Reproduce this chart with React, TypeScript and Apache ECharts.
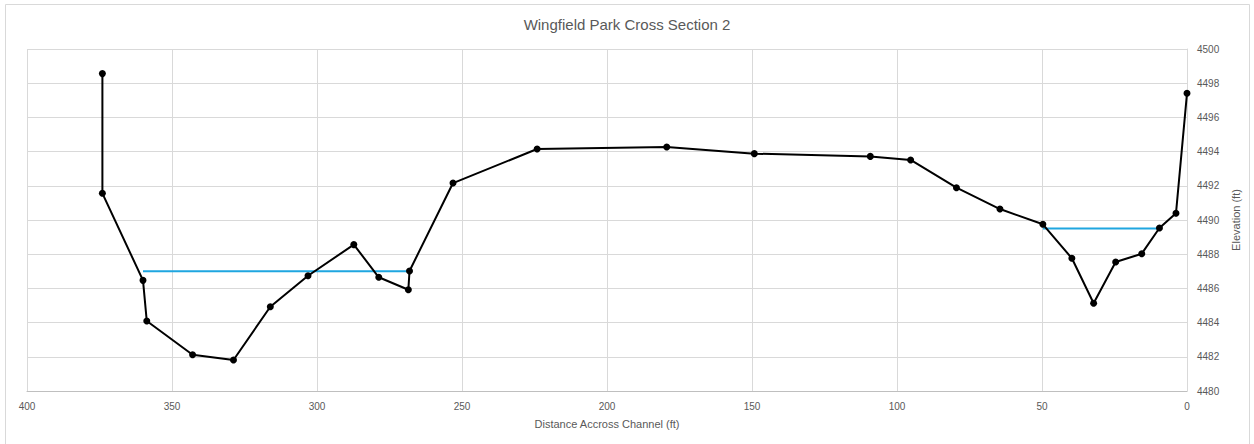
import React, { useEffect, useRef } from "react";
import * as echarts from "echarts";

const distances = [374, 374, 360, 358.7, 342.9, 328.8, 316.1, 303.1, 287.3, 278.7, 268.5, 268.1, 253.1, 224.1, 179.4, 149.2, 109.2, 95.3, 79.5, 64.5, 49.7, 39.7, 32.2, 24.6, 15.6, 9.5, 3.8, 0];
const elevations = [4498.56, 4491.56, 4486.47, 4484.09, 4482.12, 4481.81, 4484.93, 4486.74, 4488.56, 4486.65, 4485.92, 4487.02, 4492.16, 4494.15, 4494.27, 4493.88, 4493.72, 4493.51, 4491.89, 4490.64, 4489.75, 4487.76, 4485.13, 4487.54, 4488.03, 4489.53, 4490.39, 4497.41];

const waterLeftX = [360, 268.1];
const waterLeftY = [4487.0, 4487.0];
const waterRightX = [49.7, 9.5];
const waterRightY = [4489.5, 4489.5];

const xTicks = { min: 0, max: 400, interval: 50 };
const yTicks = { min: 4480, max: 4500, interval: 2 };

const FONT = "Liberation Sans";

export default function App() {
  const ref = useRef<HTMLDivElement>(null);
  useEffect(() => {
    if (!ref.current) return;
    const chart = echarts.init(ref.current, undefined, { renderer: "svg" });
    const ground = distances.map((d, i) => [d, elevations[i]]);
    const wl = waterLeftX.map((d, i) => [d, waterLeftY[i]]);
    const wr = waterRightX.map((d, i) => [d, waterRightY[i]]);
    chart.setOption({
      animation: false,
      backgroundColor: "#ffffff",
      title: {
        text: "Wingfield Park Cross Section 2",
        left: "center",
        top: 12,
        textStyle: { fontFamily: FONT, fontSize: 15, fontWeight: "normal", color: "#595959" },
      },
      graphic: [
        {
          type: "rect",
          shape: { x: 5.5, y: 4.5, width: 1244, height: 445 },
          style: { fill: "none", stroke: "#d9d9d9", lineWidth: 1 },
          silent: true,
          z: -1,
        },
      ],
      grid: { left: 27, right: 67, top: 49, bottom: 53, containLabel: false },
      xAxis: {
        type: "value",
        inverse: true,
        min: xTicks.min,
        max: xTicks.max,
        interval: xTicks.interval,
        name: "Distance Accross Channel (ft)",
        nameLocation: "middle",
        nameGap: 27,
        nameTextStyle: { fontFamily: FONT, fontSize: 11, color: "#595959" },
        axisLine: { show: true, lineStyle: { color: "#bfbfbf", width: 1 } },
        axisTick: { show: false },
        axisLabel: { fontFamily: FONT, fontSize: 10, color: "#595959", margin: 10 },
        splitLine: { show: true, lineStyle: { color: "#d9d9d9", width: 1 } },
      },
      yAxis: {
        type: "value",
        position: "right",
        min: yTicks.min,
        max: yTicks.max,
        interval: yTicks.interval,
        name: "Elevation (ft)",
        nameLocation: "middle",
        nameGap: 35,
        nameRotate: 90,
        nameTextStyle: { fontFamily: FONT, fontSize: 11, color: "#595959" },
        axisLine: { show: true, lineStyle: { color: "#d9d9d9", width: 1 } },
        axisTick: { show: false },
        axisLabel: {
          fontFamily: FONT,
          fontSize: 10,
          color: "#595959",
          margin: 10,
          formatter: (v: number) => String(v),
        },
        splitLine: { show: true, lineStyle: { color: "#d9d9d9", width: 1 } },
      },
      series: [
        {
          type: "line",
          data: wl,
          symbol: "none",
          lineStyle: { color: "#1fa6e0", width: 2 },
          z: 2,
        },
        {
          type: "line",
          data: wr,
          symbol: "none",
          lineStyle: { color: "#1fa6e0", width: 2 },
          z: 2,
        },
        {
          type: "line",
          data: ground,
          symbol: "circle",
          symbolSize: 7,
          itemStyle: { color: "#000000" },
          lineStyle: { color: "#000000", width: 2 },
          z: 3,
        },
      ],
    });
    return () => chart.dispose();
  }, []);
  return (
    <div
      ref={ref}
      style={{ position: "fixed", left: 0, top: 0, width: 1254, height: 444 }}
    />
  );
}
